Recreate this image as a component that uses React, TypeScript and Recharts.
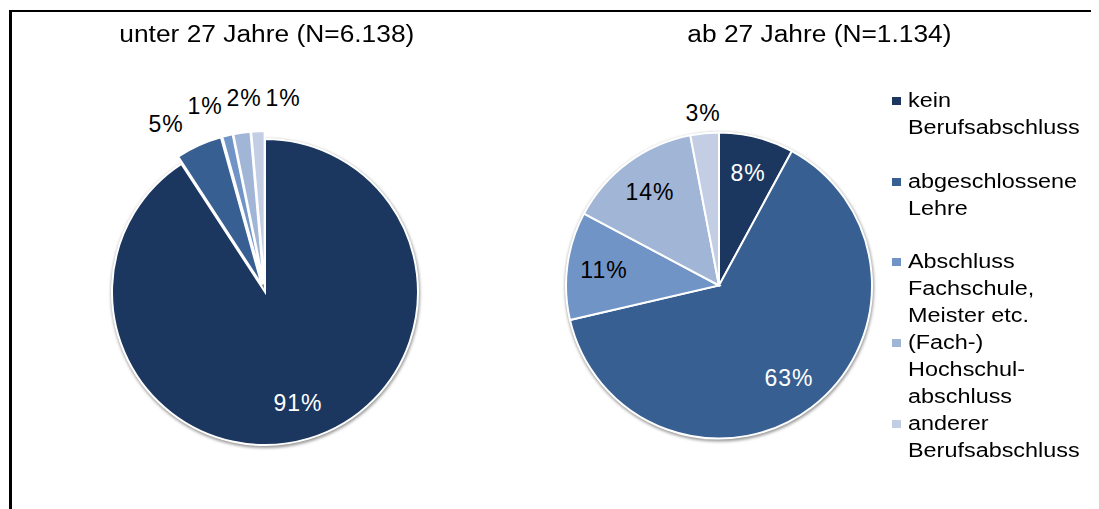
import React from "react";
import { PieChart, Pie, Cell } from "recharts";

// Kategorien (Legende, zeilenweise wie im Original umbrochen)
const categories = [
  "kein Berufsabschluss",
  "abgeschlossene Lehre",
  "Abschluss Fachschule, Meister etc.",
  "(Fach-) Hochschulabschluss",
  "anderer Berufsabschluss",
];
const legendLines = [
  ["kein", "Berufsabschluss"],
  ["abgeschlossene", "Lehre"],
  ["Abschluss", "Fachschule,", "Meister etc."],
  ["(Fach-)", "Hochschul-", "abschluss"],
  ["anderer", "Berufsabschluss"],
];

// Anteile in %
const under27 = [90.8, 4.9, 1.1, 1.8, 1.4];
const from27 = [7.9, 63.4, 11.4, 14.2, 3.0];

const titles = ["unter 27 Jahre (N=6.138)", "ab 27 Jahre (N=1.134)"];

const colors = ["#1B375F", "#375F92", "#7194C6", "#A1B5D7", "#C3CEE5"];

// herausgezogene Segmente je Diagramm
const explodeLeft = [false, true, true, true, true];
const explodeRight = [false, false, false, false, false];

const FONT = '"Liberation Sans", Arial, sans-serif';
const STRETCH = 1.145;
const R = 153;
const EXPLODE = 8;

type LabelPos = { text: string; inside: boolean; x: number; y: number; x0: number; rr: number };

function midAngles(values: number[]) {
  const total = values.reduce((a, b) => a + b, 0);
  let acc = 0;
  return values.map((v) => {
    const mid = ((acc + v / 2) / total) * 360;
    acc += v;
    return mid;
  });
}

function isDark(hex: string) {
  const n = parseInt(hex.slice(1), 16);
  const r = (n >> 16) & 255, g = (n >> 8) & 255, b = n & 255;
  return 0.299 * r + 0.587 * g + 0.114 * b < 110;
}

function layoutLabels(values: number[], cx: number, cy: number, exploded: boolean[]): LabelPos[] {
  const total = values.reduce((a, b) => a + b, 0);
  const mids = midAngles(values);
  const items: LabelPos[] = values.map((v, i) => {
    const pct = v / total;
    const a = (mids[i] * Math.PI) / 180;
    const inside = pct >= 0.06;
    const rr = inside ? R * 0.76 : R + (exploded[i] ? 42 : 20);
    const x = cx + rr * Math.sin(a);
    return { text: `${Math.round(pct * 100)}%`, inside, x, x0: x, y: cy - rr * Math.cos(a), rr };
  });

  // äußere Beschriftungen horizontal auseinanderziehen
  const gap = 39;
  const outside = items.filter((it) => !it.inside).sort((a, b) => a.x0 - b.x0);
  const place = (c: LabelPos[]) => {
    const mean = c.reduce((s, it) => s + it.x0, 0) / c.length;
    c.forEach((it, j) => (it.x = mean + (j - (c.length - 1) / 2) * gap));
  };
  let clusters = outside.map((it) => [it]);
  let merged = true;
  while (merged) {
    merged = false;
    for (let k = 0; k < clusters.length - 1; k++) {
      const A = clusters[k];
      const B = clusters[k + 1];
      place(A);
      place(B);
      if (B[0].x - A[A.length - 1].x < gap) {
        clusters.splice(k, 2, [...A, ...B]);
        merged = true;
        break;
      }
    }
  }
  clusters.forEach((c) => {
    place(c);
    c.forEach((it) => {
      const dx = it.x - cx;
      const dy = Math.sqrt(Math.max(it.rr * it.rr - dx * dx, 0));
      it.y = it.y < cy ? cy - dy : cy + dy;
    });
  });
  return items;
}

function PieGroup({
  id,
  values,
  cx,
  cy,
  exploded,
}: {
  id: string;
  values: number[];
  cx: number;
  cy: number;
  exploded: boolean[];
}) {
  const rows = categories.map((name, i) => ({ name, value: values[i] }));
  const total = values.reduce((a, b) => a + b, 0);
  const mids = midAngles(values);
  const labels = layoutLabels(values, cx, cy, exploded);

  const renderLabel = (props: any) => {
    const l = labels[props.index];
    if (!l) return null;
    const fill = l.inside && isDark(colors[props.index]) ? "#FFFFFF" : "#000000";
    return (
      <text
        key={`${id}-lbl-${props.index}`}
        x={Math.round(l.x)}
        y={Math.round(l.y) + 8}
        textAnchor="middle"
        fontSize={23}
        letterSpacing={1}
        fontFamily={FONT}
        fill={fill}
        stroke="none"
      >
        {l.text}
      </text>
    );
  };

  return [
    <Pie
      key={`${id}-shadow`}
      data={[{ name: "total", value: total }]}
      dataKey="value"
      cx={cx + 0.5}
      cy={cy + 1.5}
      outerRadius={R + 1.5}
      startAngle={90}
      endAngle={-270}
      stroke="none"
      isAnimationActive={false}
    >
      <Cell fill="#9a9a9a" filter="url(#pieShadow)" />
    </Pie>,
    <Pie
      key={`${id}-main`}
      data={rows}
      dataKey="value"
      cx={cx}
      cy={cy}
      outerRadius={R}
      startAngle={90}
      endAngle={-270}
      stroke="#FFFFFF"
      strokeWidth={2}
      label={renderLabel}
      labelLine={false}
      isAnimationActive={false}
    >
      {rows.map((_, i) => (
        <Cell
          key={i}
          fill={exploded[i] ? "none" : colors[i]}
          stroke={exploded[i] ? "none" : "#FFFFFF"}
        />
      ))}
    </Pie>,
    ...rows.map((_, i) => {
      if (!exploded[i]) return null;
      const a = (mids[i] * Math.PI) / 180;
      return (
        <Pie
          key={`${id}-ex-${i}`}
          data={rows}
          dataKey="value"
          cx={cx + EXPLODE * Math.sin(a)}
          cy={cy - EXPLODE * Math.cos(a)}
          outerRadius={R}
          startAngle={90}
          endAngle={-270}
          strokeWidth={2}
          isAnimationActive={false}
        >
          {rows.map((__, j) => (
            <Cell key={j} fill={j === i ? colors[j] : "none"} stroke={j === i ? "#FFFFFF" : "none"} />
          ))}
        </Pie>
      );
    }),
  ];
}

export default function App() {
  const W = 1091;
  const H = 501;
  const left = { cx: 257, cy: 284 };
  const right = { cx: 711, cy: 277.5 };

  return (
    <div style={{ position: "relative", width: W, height: H, background: "#fff", overflow: "hidden", fontFamily: FONT }}>
      <div
        style={{
          position: "absolute",
          left: 1,
          top: 2,
          width: W - 1,
          height: H - 2,
          borderLeft: "3px solid #000",
          borderTop: "2px solid #000",
          boxSizing: "border-box",
        }}
      />
      <PieChart width={W} height={H} margin={{ top: 0, right: 0, bottom: 0, left: 0 }}>
        <defs>
          <filter id="pieShadow" x="-10%" y="-10%" width="120%" height="120%">
            <feGaussianBlur stdDeviation="1.6" />
          </filter>
        </defs>
        {PieGroup({ id: "u27", values: under27, cx: left.cx, cy: left.cy, exploded: explodeLeft })}
        {PieGroup({ id: "a27", values: from27, cx: right.cx, cy: right.cy, exploded: explodeRight })}
      </PieChart>

      {[
        { text: titles[0], cx: 259 },
        { text: titles[1], cx: 811 },
      ].map((t) => (
        <div
          key={t.text}
          style={{
            position: "absolute",
            left: t.cx - 250,
            width: 500,
            top: 15,
            textAlign: "center",
            fontSize: 23,
            lineHeight: "23px",
            color: "#000",
            whiteSpace: "nowrap",
          }}
        >
          <span style={{ display: "inline-block", transform: `scaleX(${STRETCH})` }}>{t.text}</span>
        </div>
      ))}

      <div style={{ position: "absolute", left: 884, top: 79 }}>
        {legendLines.map((lines, i) => (
          <div key={categories[i]} style={{ position: "relative", height: 80.7 }}>
            <div
              style={{
                position: "absolute",
                left: 0,
                top: 10,
                width: 9,
                height: 8,
                background: colors[i],
              }}
            />
            <div style={{ position: "absolute", left: 16, top: 0 }}>
              {lines.map((ln) => (
                <div
                  key={ln}
                  style={{
                    fontSize: 20,
                    lineHeight: "26.9px",
                    color: "#000",
                    whiteSpace: "nowrap",
                    transform: "scaleX(1.17)",
                    transformOrigin: "left center",
                  }}
                >
                  {ln}
                </div>
              ))}
            </div>
          </div>
        ))}
      </div>
    </div>
  );
}
